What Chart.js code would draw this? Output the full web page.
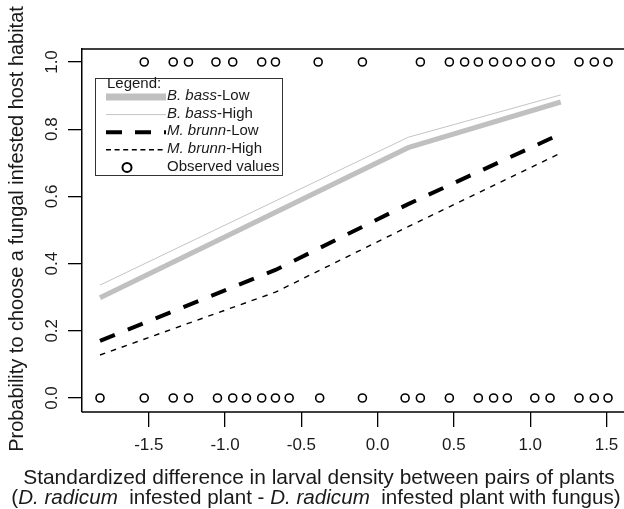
<!DOCTYPE html>
<html>
<head>
<meta charset="utf-8">
<script src="https://cdn.jsdelivr.net/npm/chart.js@4"></script>
<style>
  body { margin: 0; background: #fff; }
  canvas { display: block; }
</style>
</head>
<body>
<canvas id="chart" width="624" height="509"></canvas>
<script>
// ---------- data ----------
const xTicks = [-1.5, -1.0, -0.5, 0.0, 0.5, 1.0, 1.5];
const yTicks = [0.0, 0.2, 0.4, 0.6, 0.8, 1.0];

const bassX = [-1.82, 0.2, 1.2];
const bassLow = [0.298, 0.745, 0.881];
const bassHigh = [0.336, 0.776, 0.902];

const brunnX = [-1.82, -0.67, 0.2, 1.2];
const brunnLow = [0.17, 0.381, 0.577, 0.786];
const brunnHigh = [0.128, 0.315, 0.51, 0.729];

const obsTopX = [-1.53, -1.34, -1.24, -1.06, -0.95, -0.76, -0.67, -0.39, -0.10, 0.28,
  0.47, 0.57, 0.66, 0.76, 0.85, 0.94, 1.04, 1.13, 1.32, 1.42, 1.51];
const obsBottomX = [-1.82, -1.53, -1.34, -1.24, -1.05, -0.95, -0.86, -0.76, -0.67, -0.58,
  -0.38, -0.10, 0.18, 0.28, 0.47, 0.66, 0.76, 0.85, 1.03, 1.13, 1.32, 1.42, 1.51];

const pts = (xs, ys) => xs.map((x, i) => ({ x: x, y: ys[i] }));
const FONT = "'Liberation Sans', Arial, sans-serif";
const INK = '#1a1a1a';

// font size that makes a run of [text, italic] parts span `target` px
function fitSize(ctx, parts, target) {
  let w = 0;
  parts.forEach(p => {
    ctx.font = (p[1] ? 'italic ' : '') + '20px ' + FONT;
    w += ctx.measureText(p[0]).width;
  });
  return 20 * target / w;
}

function drawParts(ctx, parts, size, cx, cy) {
  const fontOf = it => (it ? 'italic ' : '') + size + 'px ' + FONT;
  let total = 0;
  parts.forEach(p => { ctx.font = fontOf(p[1]); total += ctx.measureText(p[0]).width; });
  let x = cx - total / 2;
  ctx.textAlign = 'left';
  parts.forEach(p => {
    ctx.font = fontOf(p[1]);
    ctx.fillText(p[0], x, cy);
    x += ctx.measureText(p[0]).width;
  });
}

// ----------------- frame, titles, legend -----------------
const framePlugin = {
  id: 'frame',
  afterDraw(chart) {
    const ctx = chart.ctx;
    const a = chart.chartArea;
    const ys = chart.scales.y;
    ctx.save();

    // top and bottom edges of the box run off the right side
    ctx.strokeStyle = '#000';
    ctx.lineWidth = 1.5;
    ctx.beginPath();
    ctx.moveTo(a.left, a.top);
    ctx.lineTo(chart.width, a.top);
    ctx.moveTo(a.left, a.bottom);
    ctx.lineTo(chart.width, a.bottom);
    ctx.stroke();

    // rotated y tick labels
    ctx.fillStyle = INK;
    ctx.font = '17px ' + FONT;
    ctx.textAlign = 'center';
    ctx.textBaseline = 'middle';
    yTicks.forEach(v => {
      ctx.save();
      ctx.translate(52, ys.getPixelForValue(v));
      ctx.rotate(-Math.PI / 2);
      ctx.fillText(v.toFixed(1), 0, 0);
      ctx.restore();
    });

    // y title
    const yParts = [['Probability to choose a fungal infested host habitat', false]];
    const ySize = fitSize(ctx, yParts, 446);
    ctx.save();
    ctx.translate(18, 229);
    ctx.rotate(-Math.PI / 2);
    drawParts(ctx, yParts, ySize, 0, 0);
    ctx.restore();

    // x title, two lines with italic species names
    const line1 = [['Standardized difference in larval density between pairs of plants', false]];
    const line2 = [
      ['(', false], ['D. radicum', true], ['  infested plant - ', false],
      ['D. radicum', true], ['  infested plant with fungus)', false]
    ];
    drawParts(ctx, line1, fitSize(ctx, line1, 592), 319, 478);
    drawParts(ctx, line2, fitSize(ctx, line2, 610), 316, 498);

    // legend box
    ctx.fillStyle = '#fff';
    ctx.fillRect(95, 78, 187, 98);
    ctx.strokeStyle = '#333';
    ctx.lineWidth = 1;
    ctx.strokeRect(95.5, 78.5, 187, 97);
    ctx.fillStyle = INK;
    ctx.font = '15px ' + FONT;
    ctx.textAlign = 'left';
    ctx.textBaseline = 'middle';
    ctx.fillText('Legend:', 107, 84);

    const rows = [
      { sp: 'B. bass', lv: '-Low', color: '#c0c0c0', w: 7, dash: [] },
      { sp: 'B. bass', lv: '-High', color: '#c4c4c4', w: 1, dash: [] },
      { sp: 'M. brunn', lv: '-Low', color: '#000', w: 4, dash: [16, 13] },
      { sp: 'M. brunn', lv: '-High', color: '#000', w: 1.6, dash: [5, 3.6] },
      { sp: null, lv: 'Observed values' }
    ];
    rows.forEach((r, i) => {
      const y = 96 + i * 17.6;
      if (r.sp) {
        ctx.strokeStyle = r.color;
        ctx.lineWidth = r.w;
        ctx.setLineDash(r.dash);
        ctx.beginPath();
        ctx.moveTo(106, y + 1);
        ctx.lineTo(166, y + 1);
        ctx.stroke();
        ctx.setLineDash([]);
        ctx.font = 'italic 15px ' + FONT;
        ctx.fillText(r.sp, 167, y);
        const w = ctx.measureText(r.sp).width;
        ctx.font = '15px ' + FONT;
        ctx.fillText(r.lv, 167 + w, y);
      } else {
        ctx.strokeStyle = '#000';
        ctx.lineWidth = 2;
        ctx.beginPath();
        ctx.arc(127, y + 1, 4.5, 0, Math.PI * 2);
        ctx.stroke();
        ctx.font = '15px ' + FONT;
        ctx.fillText(r.lv, 167, y);
      }
    });
    ctx.restore();
  }
};

// ----------------- chart -----------------
const lineSet = (xs, ys, color, width, dash) => ({
  type: 'line',
  data: pts(xs, ys),
  borderColor: color,
  borderWidth: width,
  borderDash: dash,
  pointRadius: 0,
  fill: false,
  tension: 0
});

const circleSet = (xs, yv) => ({
  type: 'scatter',
  data: xs.map(x => ({ x: x, y: yv })),
  pointStyle: 'circle',
  pointRadius: 4,
  pointBorderWidth: 1.6,
  pointBorderColor: '#000',
  pointBackgroundColor: 'rgba(0,0,0,0)'
});

new Chart(document.getElementById('chart').getContext('2d'), {
  type: 'scatter',
  data: {
    datasets: [
      lineSet(bassX, bassLow, '#c0c0c0', 5, []),
      lineSet(bassX, bassHigh, '#c4c4c4', 1, []),
      lineSet(brunnX, brunnLow, '#000', 4, [16, 14]),
      lineSet(brunnX, brunnHigh, '#000', 1.4, [5.5, 6]),
      circleSet(obsTopX, 1),
      circleSet(obsBottomX, 0)
    ]
  },
  options: {
    responsive: false,
    animation: false,
    events: [],
    layout: { padding: { top: 49, left: 0, right: 0, bottom: 0 } },
    plugins: { legend: { display: false }, tooltip: { enabled: false } },
    scales: {
      x: {
        type: 'linear',
        min: -1.938,
        max: 1.578,
        afterBuildTicks: s => { s.ticks = xTicks.map(v => ({ value: v })); },
        afterFit: s => { s.height = 97; s.paddingLeft = 0; s.paddingRight = 0; },
        grid: { display: true, drawOnChartArea: false, drawTicks: true, tickLength: 15, color: '#000', lineWidth: 1.3 },
        border: { display: false },
        ticks: {
          color: INK,
          font: { family: FONT, size: 17 },
          padding: 8,
          maxRotation: 0,
          autoSkip: false,
          callback: v => v.toFixed(1)
        }
      },
      y: {
        type: 'linear',
        min: -0.0417,
        max: 1.0387,
        afterBuildTicks: s => { s.ticks = yTicks.map(v => ({ value: v })); },
        afterFit: s => { s.width = 82; s.paddingTop = 0; s.paddingBottom = 0; },
        grid: { display: true, drawOnChartArea: false, drawTicks: true, tickLength: 14, color: '#000', lineWidth: 1.3 },
        border: { display: true, color: '#000', width: 1.5 },
        ticks: { display: false }
      }
    }
  },
  plugins: [framePlugin]
});
</script>
</body>
</html>
